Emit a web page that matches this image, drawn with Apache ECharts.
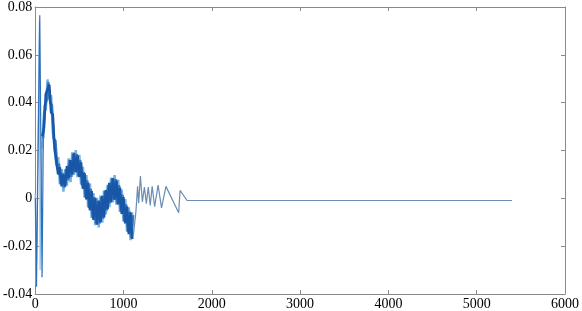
<!DOCTYPE html>
<html><head><meta charset="utf-8">
<script src="https://cdn.jsdelivr.net/npm/echarts@6/dist/echarts.min.js"></script>
<style>html,body{margin:0;padding:0;background:#fff}#c{width:582px;height:311px}</style>
</head><body><div id="c"></div>
<script>
// x tick labels and y tick labels
const xTicks = [0, 1000, 2000, 3000, 4000, 5000, 6000];
const yTicks = [-0.04, -0.02, 0, 0.02, 0.04, 0.06, 0.08];

// early spikes
const spikeX = [3, 15, 52, 78, 92];
const spikeY = [0.0, -0.037, 0.0765, -0.033, 0.025];
const spikeLightX = [0, 12, 48, 56, 78];
const spikeLightY = [0.002, -0.036, 0.074, -0.03, 0.022];

// band: dark core
const darkX = [80,100,120,140,160,180,200,220,240,260,280,300,320,340,360,380,400,420,440,460,480,500,520,540,560,580,600,620,640,660,680,700,720,740,760,780,800,820,840,860,880,900,920,940,960,980,1000,1020,1040,1060,1080,1100];
const darkY = [0.026,0.0295,0.0435,0.0435,0.0475,0.036,0.035,0.021,0.021,0.010,0.013,0.005,0.010,0.005,0.0135,0.0085,0.016,0.010,0.019,0.011,0.018,0.009,0.015,0.004,0.0105,-0.0005,0.0065,-0.005,0.003,-0.009,0.000,-0.011,-0.001,-0.010,0.001,-0.008,0.0035,-0.0045,0.0065,-0.0015,0.0085,-0.0005,0.0075,-0.0025,0.0045,-0.0065,0.0005,-0.0105,-0.0035,-0.015,-0.006,-0.017];

// band: medium
const midX = [90,110,130,150,170,190,210,230,250,270,290,310,330,350,370,390,410,430,450,470,490,510,530,550,570,590,610,630,650,670,690,710,730,750,770,790,810,830,850,870,890,910,930,950,970,990,1010,1030,1050,1070,1090,1110];
const midY = [0.025,0.039,0.041,0.0485,0.040,0.039,0.025,0.024,0.0125,0.0145,0.006,0.0105,0.0045,0.012,0.0075,0.016,0.009,0.0185,0.011,0.0185,0.0095,0.016,0.0055,0.011,0.0005,0.0075,-0.004,0.004,-0.008,0.0005,-0.0105,-0.001,-0.0105,0.0005,-0.0085,0.003,-0.005,0.0055,-0.002,0.008,-0.0005,0.008,-0.002,0.0055,-0.0055,0.0015,-0.0095,-0.0025,-0.014,-0.0055,-0.0165,-0.007];

// band: light edge
const lightX = [80,100,120,140,160,180,200,220,240,260,280,300,320,340,360,380,400,420,440,460,480,500,520,540,560,580,600,620,640,660,680,700,720,740,760,780,800,820,840,860,880,900,920,940,960,980,1000,1020,1040,1060,1080,1100];
const lightY = [0.0208,0.0357,0.0373,0.0497,0.0413,0.0432,0.0278,0.0282,0.0138,0.0172,0.0058,0.0122,0.0028,0.0122,0.0053,0.0167,0.0068,0.0192,0.0098,0.0202,0.0088,0.0182,0.0058,0.0132,0.0003,0.0097,-0.0037,0.0062,-0.0082,0.0022,-0.0112,0.0002,-0.0122,0.0012,-0.0102,0.0032,-0.0067,0.0057,-0.0037,0.0087,-0.0017,0.0097,-0.0027,0.0077,-0.0057,0.0037,-0.0097,-0.0003,-0.0137,-0.0038,-0.0175,-0.0058];

// tail
const tailX = [1110,1140,1160,1172,1192,1214,1237,1259,1281,1303,1325,1353,1392,1431,1481,1625,1641,1720,5400];
const tailY = [-0.016,-0.006,0.005,-0.002,0.0093,-0.0015,0.0047,-0.0022,0.0047,-0.003,0.005,-0.0035,0.0055,-0.004,0.005,-0.006,0.0033,-0.0009,-0.0009];

const zip = (xs, ys) => xs.map((x, i) => [x, ys[i]]);
const font = '"Liberation Serif", "Times New Roman", serif';
const boxColor = '#8a8a8a';

function line(name, xs, ys, color, width, z) {
  return { name, type: 'line', data: zip(xs, ys), symbol: 'none', z,
    lineStyle: { color, width, join: 'bevel' }, animation: false, xAxisIndex: 0, yAxisIndex: 0 };
}

const chart = echarts.init(document.getElementById('c'), null, { renderer: 'canvas' });
const axisCommon = {
  axisLine: { show: true, onZero: false, lineStyle: { color: boxColor, width: 1 } },
  axisTick: { show: true, inside: true, length: 4, lineStyle: { color: boxColor } },
  splitLine: { show: false }
};
chart.setOption({
  animation: false,
  grid: { left: 33, right: 8, top: 7, bottom: 15, containLabel: false },
  xAxis: [
    Object.assign({ type: 'value', min: xTicks[0], max: xTicks[xTicks.length-1], interval: 1000, position: 'bottom',
      axisLabel: { color: '#000', fontFamily: font, fontSize: 14, margin: 3, formatter: v => String(v) } }, axisCommon),
    Object.assign({ type: 'value', min: xTicks[0], max: xTicks[xTicks.length-1], interval: 1000, position: 'top',
      axisLabel: { show: false } }, axisCommon)
  ],
  yAxis: [
    Object.assign({ type: 'value', min: yTicks[0], max: yTicks[yTicks.length-1], interval: 0.02, position: 'left',
      axisLabel: { color: '#000', fontFamily: font, fontSize: 14, margin: 3,
        formatter: v => { const r = Math.round(v*100)/100; return r === 0 ? '0' : r.toFixed(2); } } }, axisCommon),
    Object.assign({ type: 'value', min: yTicks[0], max: yTicks[yTicks.length-1], interval: 0.02, position: 'right',
      axisLabel: { show: false } }, axisCommon)
  ],
  series: [
    line('light', lightX, lightY, '#74b0e0', 2.5, 1),
    line('spikeLight', spikeLightX, spikeLightY, '#8cc0e8', 1.2, 2),
    line('mid', midX, midY, '#3479c4', 2.5, 3),
    line('dark', darkX, darkY, '#1a56a6', 2.5, 4),
    line('spike', spikeX, spikeY, '#2e6fba', 1.2, 5),
    line('tail', tailX, tailY, '#6a8db2', 1.2, 6)
  ]
});
</script></body></html>
